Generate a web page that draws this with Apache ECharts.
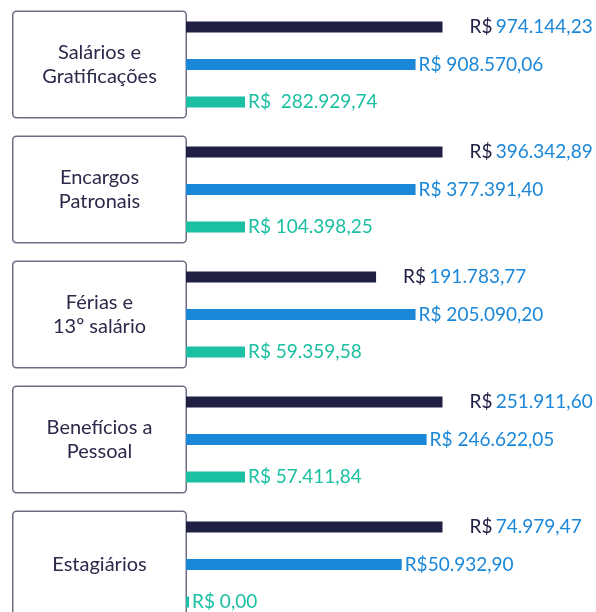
<!DOCTYPE html>
<html>
<head>
<meta charset="utf-8">
<script src="https://cdn.jsdelivr.net/npm/echarts@6/dist/echarts.min.js"></script>
<style>
  html, body { margin: 0; padding: 0; background: #fff; }
  #chart { width: 596px; height: 612px; }
</style>
</head>
<body>
<div id="chart"></div>
<script>
// categorias
const categories = [
  "Salários e\nGratificações",
  "Encargos\nPatronais",
  "Férias e\n13º salário",
  "Benefícios a\nPessoal",
  "Estagiários",
];

// comprimento das barras como aparecem no gráfico (barra escura cheia = 100)
const navyBars = [100, 100, 74.1, 100, 100];
const blueBars = [89.5, 89.5, 89.5, 93.8, 84.1];
const greenBars = [23, 23, 23, 23, 1.2];

// valores escritos nos rótulos
const navyLabels = ["974.144,23", "396.342,89", "191.783,77", "251.911,60", "74.979,47"];
const blueLabels = ["R$ 908.570,06", "R$ 377.391,40", "R$ 205.090,20", "R$ 246.622,05", "R$50.932,90"];
const greenLabels = ["R$  282.929,74", "R$ 104.398,25", "R$ 59.359,58", "R$ 57.411,84", "R$ 0,00"];

const NAVY = "#1f2044";
const BLUE = "#1b87d9";
const GREEN = "#1bbfa2";
const FONT = "Lato";

const chart = echarts.init(document.getElementById("chart"));

const option = {
  animation: false,
  grid: { left: 186, top: 2, width: 256.5, height: 625, outerBoundsMode: "none" },
  xAxis: { type: "value", min: 0, max: 100, show: false },
  yAxis: {
    type: "category",
    inverse: true,
    data: categories,
    axisLine: { show: false },
    axisTick: { show: false },
    axisLabel: {
      margin: 86.5,
      align: "center",
      verticalAlign: "middle",
      width: 172,
      height: 105,
      backgroundColor: "#fff",
      borderColor: "#6e6c85",
      borderWidth: 1.5,
      borderRadius: 3,
      color: "#2b2a4a",
      fontFamily: FONT,
      fontSize: 20,
      lineHeight: 24,
    },
  },
  series: [
    {
      type: "bar",
      data: navyBars,
      barWidth: 11,
      barGap: "241%",
      barCategoryGap: "31.2%",
      itemStyle: { color: NAVY },
      label: {
        show: true,
        position: "right",
        distance: 27,
        formatter: (p) => "{a|R$} {b|" + navyLabels[p.dataIndex] + "}",
        rich: {
          a: { color: NAVY, fontFamily: FONT, fontSize: 19 },
          b: { color: BLUE, fontFamily: FONT, fontSize: 19 },
        },
      },
    },
    {
      type: "bar",
      data: blueBars,
      barWidth: 11,
      itemStyle: { color: BLUE },
      label: {
        show: true,
        position: "right",
        distance: 3,
        color: BLUE,
        fontFamily: FONT,
        fontSize: 19,
        formatter: (p) => blueLabels[p.dataIndex],
      },
    },
    {
      type: "bar",
      data: greenBars,
      barWidth: 11,
      itemStyle: { color: GREEN },
      label: {
        show: true,
        position: "right",
        distance: 3,
        color: GREEN,
        fontFamily: FONT,
        fontSize: 19,
        formatter: (p) => greenLabels[p.dataIndex],
      },
    },
  ],
};

chart.setOption(option);
window.addEventListener("resize", () => chart.resize());
</script>
</body>
</html>
